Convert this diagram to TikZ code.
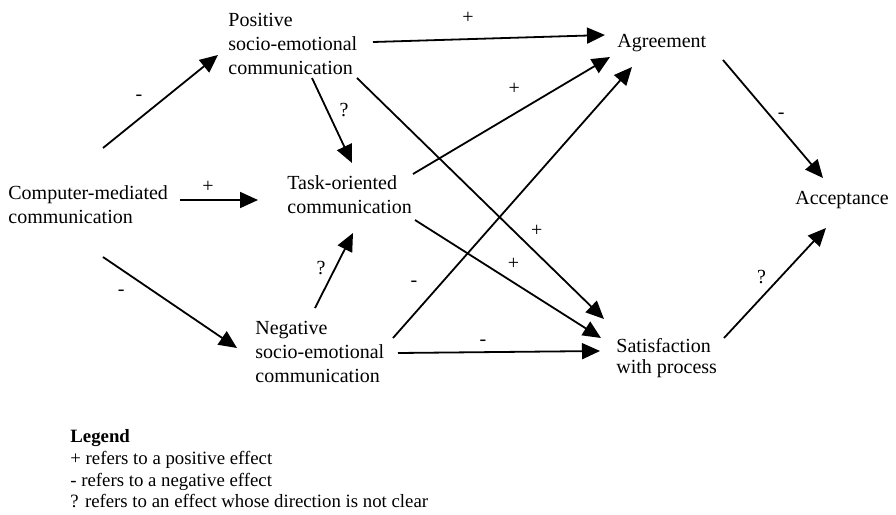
\documentclass[tikz,border=0pt]{standalone}
\usepackage{fontspec}
\setmainfont{Liberation Serif}
\usetikzlibrary{arrows.meta,positioning}

\begin{document}
\begin{tikzpicture}[x=0.5pt, y=-0.5pt]
        \tikzstyle{var} = [anchor=west, align=left, inner sep=0pt, font=\fontsize{10}{12}\selectfont]
        \tikzstyle{effect} = [-{Triangle[length=9pt, width=8pt]}, line width=0.9pt]
        \tikzstyle{sign} = [inner sep=1pt, font=\fontsize{10}{12}\selectfont]
        \useasboundingbox (0,0) rectangle (896,515);
        \node[var] (CMC) at (8,205) {Computer-mediated\\communication};
        \node[var] (POS) at (228,44) {Positive\\socio-emotional\\communication};
        \node[var] (TASK) at (287,195) {Task-oriented\\communication};
        \node[var] (NEG) at (255,352) {Negative\\socio-emotional\\communication};
        \node[var] (AGR) at (617,43) {Agreement};
        \node[var] (ACC) at (795,200) {Acceptance};
        \node[var, font=\fontsize{10}{10.8}\selectfont] (SAT) at (616,358) {Satisfaction\\with process};
        \node[var, font=\fontsize{9.4}{10.8}\selectfont] (LEG) at (70,469) {\textbf{Legend}\\+ refers to a positive effect\\- refers to a negative effect\\? refers to an effect whose direction is not clear};
        % first step
        \path[effect]
        ([shift={(95,-57)}]CMC.west) edge node[sign, pos=.41, above left=3.2pt and 2.5pt] {-} ([shift={(-10,11)}]POS.west)
        ([shift={(172,-5)}]CMC.west) edge node[sign, pos=.36, above=2.5pt] {+} ([shift={(-29,5)}]TASK.west)
        ([shift={(95,52)}]CMC.west) edge node[sign, pos=.21, below left=5.5pt and 1.9pt] {-} ([shift={(-18,-4)}]NEG.west);
        % between the kinds of communication
        \path[effect]
        ([shift={(84,34)}]POS.west) edge node[sign, pos=.38, right=4.8pt] {?} ([shift={(65,-32)}]TASK.west)
        ([shift={(60,-44)}]NEG.west) edge node[sign, pos=.53, left=3.4pt] {?} ([shift={(66,38)}]TASK.west);
        % to the outcomes
        \path[effect]
        ([shift={(145,-2)}]POS.west) edge node[sign, pos=.41, above=6.5pt] {+} ([shift={(-12,-8)}]AGR.west)
        ([shift={(126,-21)}]TASK.west) edge node[sign, pos=.57, above left=5.2pt and 1.3pt] {+} ([shift={(-7,14)}]AGR.west)
        ([shift={(138,-14)}]NEG.west) edge node[sign, pos=.154, above left=3.4pt and 4.8pt] {-} ([shift={(15,24)}]AGR.west)
        ([shift={(129,34)}]POS.west) edge node[sign, pos=.684, above right=1.6pt and 1.1pt] {+} ([shift={(-12,-39)}]SAT.west)
        ([shift={(128,25)}]TASK.west) edge node[sign, pos=.484, above right=2.4pt and 0pt] {+} ([shift={(-15,-20)}]SAT.west)
        ([shift={(143,1)}]NEG.west) edge node[sign, pos=.42, above=1.75pt] {-} ([shift={(-16,-7)}]SAT.west);
        % to acceptance
        \path[effect]
        ([shift={(106,17)}]AGR.west) edge node[sign, pos=.47, right=2.5pt] {-} ([shift={(28,-22)}]ACC.west)
        ([shift={(108,-20)}]SAT.west) edge node[sign, pos=.55, left=5.6pt] {?} ([shift={(31,28)}]ACC.west);
    \end{tikzpicture}
\end{document}
